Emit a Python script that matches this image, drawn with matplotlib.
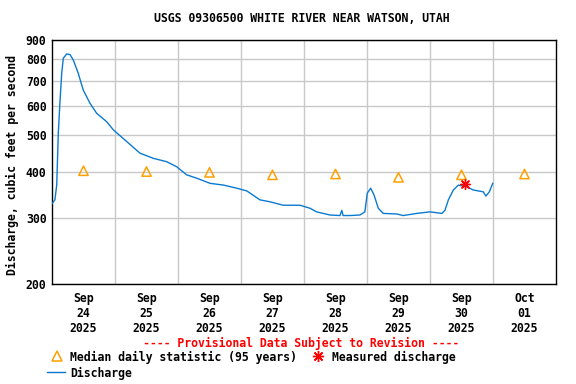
import numpy as np
import matplotlib
matplotlib.use("Agg")
import matplotlib.pyplot as plt
from matplotlib.lines import Line2D

# Discharge, hours since Sep 24 2025 00:00 and cfs
hours = [0.0, 1.1, 1.8, 2.4, 3.0, 3.7, 4.3, 5.6, 6.9, 8.1, 10.0, 11.9, 14.5, 17.0,
         20.8, 23.4, 28.5, 33.5, 38.6, 43.7, 47.5, 51.3, 55.1, 60.2, 65.3, 70.4,
         74.2, 79.2, 83.0, 88.1, 94.5, 98.3, 100.8, 105.9, 109.7, 110.4, 110.9,
         113.5, 117.3, 119.2, 120.1, 121.4, 122.7, 124.3, 126.2, 131.3, 133.8,
         138.9, 144.0, 148.5, 149.7, 151.0, 152.9, 154.8, 158.0, 160.5, 164.3,
         165.3, 166.6, 167.9]
discharge = [328, 336, 368, 506, 609, 733, 804, 826, 822, 796, 733, 661, 609, 573,
             544, 517, 481, 448, 434, 425, 412, 392, 384, 372, 368, 361,
             355, 336, 332, 325, 325, 319, 312, 306, 305, 315, 305,
             305, 306, 312, 350, 361, 346, 319, 309, 308, 305,
             309, 312, 309, 315, 336, 357, 368, 364, 357, 353,
             344, 353, 372]

# median daily statistic, at noon each day
median_days = [0.5, 1.5, 2.5, 3.5, 4.5, 5.5, 6.5, 7.5]
median_vals = [402, 400, 398, 392, 394, 386, 392, 394]

# measured discharge
meas_hours = [157.3]
meas_vals = [370]

day_labels = ["Sep\n24\n2025", "Sep\n25\n2025", "Sep\n26\n2025", "Sep\n27\n2025",
              "Sep\n28\n2025", "Sep\n29\n2025", "Sep\n30\n2025", "Oct\n01\n2025"]
yticks = [200, 300, 400, 500, 600, 700, 800, 900]

plt.rcParams['font.family'] = 'DejaVu Sans Mono'
plt.rcParams['font.weight'] = 'bold'
fs = 8.3

fig = plt.figure(figsize=(5.76, 3.84), dpi=100)
ax = fig.add_axes([52/576, 100/384, 504/576, 244/384])

days = np.array(hours) / 24.0
ax.plot(days, discharge, color='#0a7ad0', lw=1.0, zorder=3)
ax.scatter(median_days, median_vals, marker='^', s=45, facecolors='none',
           edgecolors='#ffa000', linewidths=1.1, zorder=4)
ax.scatter(np.array(meas_hours) / 24.0, meas_vals, marker=(8, 2, 0), s=50,
           color='#ff0000', linewidths=1.0, zorder=5)

ax.set_yscale('log')
ax.set_ylim(200, 900)
ax.set_xlim(0, 8)
ax.set_yticks(yticks)
ax.set_yticklabels([str(v) for v in yticks], fontsize=fs, fontweight='bold')
ax.yaxis.set_minor_locator(matplotlib.ticker.NullLocator())
ax.set_xticks(median_days)
ax.set_xticklabels(day_labels, fontsize=fs, fontweight='bold', linespacing=1.18)
ax.set_xticks(range(1, 8), minor=True)
ax.tick_params(axis='both', which='both', length=0)
ax.tick_params(axis='x', pad=6)
ax.tick_params(axis='y', pad=4)

ax.grid(True, axis='x', which='minor', color='#c8c8c8', lw=1)
ax.grid(True, axis='y', which='major', color='#c8c8c8', lw=1)
ax.grid(False, axis='x', which='major')
ax.set_axisbelow(True)
for sp in ax.spines.values():
    sp.set_linewidth(1.0)

fig.text(302/576, 1 - 19/384, "USGS 09306500 WHITE RIVER NEAR WATSON, UTAH",
         ha='center', va='center', fontsize=fs, fontweight='bold')
fig.text(12/576, 1 - 165/384, "Discharge, cubic feet per second", rotation=90,
         ha='center', va='center', fontsize=fs, fontweight='bold')
fig.text(301/576, 1 - 343/384, "---- Provisional Data Subject to Revision ----",
         ha='center', va='center', fontsize=fs, fontweight='bold', color='#ff0000')

# legend
fig.add_artist(Line2D([57/576], [1 - 356/384], marker='^', markersize=7,
                      markerfacecolor='none', markeredgecolor='#ffa000',
                      markeredgewidth=1.1, linestyle='none'))
fig.text(70/576, 1 - 357/384, "Median daily statistic (95 years)",
         ha='left', va='center', fontsize=fs, fontweight='bold')
fig.add_artist(Line2D([318/576], [1 - 356/384], marker=(8, 2, 0), markersize=8,
                      color='#ff0000', markeredgewidth=1.0, linestyle='none'))
fig.text(332/576, 1 - 357/384, "Measured discharge",
         ha='left', va='center', fontsize=fs, fontweight='bold')
fig.add_artist(Line2D([47/576, 65/576], [1 - 372/384, 1 - 372/384],
                      color='#0a7ad0', lw=1.0))
fig.text(70/576, 1 - 373/384, "Discharge",
         ha='left', va='center', fontsize=fs, fontweight='bold')

fig.savefig("out.png", dpi=100)
